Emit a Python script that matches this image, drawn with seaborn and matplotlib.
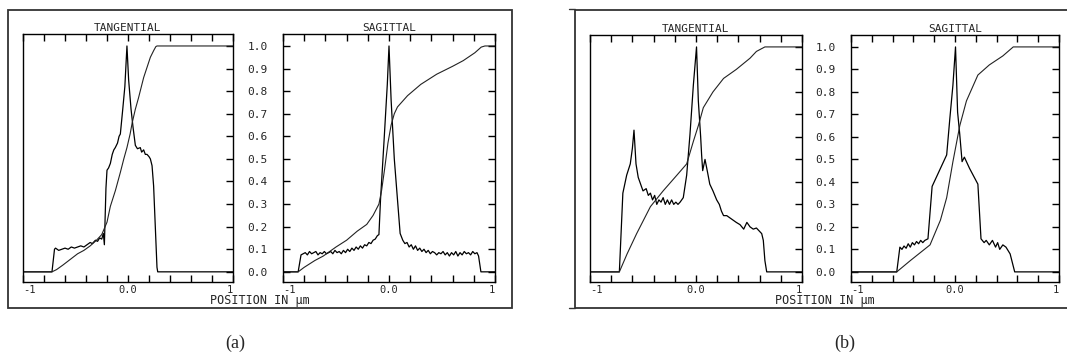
import matplotlib
matplotlib.use("Agg")
import matplotlib.pyplot as plt
import numpy as np
import seaborn as sns
from matplotlib.lines import Line2D
from matplotlib.patches import Rectangle

# line spread (jagged) and edge spread (cumulative) curves
a_tan_lsf_x = [-1.0, -0.724, -0.70, -0.69, -0.66, -0.63, -0.60, -0.57, -0.54, -0.51, -0.48, -0.45,
               -0.42, -0.39, -0.36, -0.34, -0.31, -0.29, -0.27, -0.25, -0.235, -0.225, -0.21,
               -0.20, -0.185, -0.168, -0.15, -0.135, -0.121, -0.10, -0.085, -0.073, -0.05,
               -0.03, -0.01, 0.006, 0.029, 0.048, 0.07, 0.09, 0.117, 0.13, 0.149, 0.165, 0.181,
               0.20, 0.213, 0.229, 0.244, 0.26, 0.276, 0.283, 1.0]
a_tan_lsf_y = [0.0, 0.0, 0.10, 0.105, 0.095, 0.10, 0.105, 0.10, 0.11, 0.105, 0.11, 0.115,
               0.11, 0.12, 0.13, 0.125, 0.14, 0.135, 0.15, 0.145, 0.17, 0.12, 0.37,
               0.45, 0.46, 0.48, 0.52, 0.54, 0.55, 0.57, 0.60, 0.61, 0.72,
               0.82, 1.0, 0.85, 0.72, 0.64, 0.56, 0.545, 0.55, 0.53, 0.54, 0.52, 0.52,
               0.51, 0.50, 0.47, 0.38, 0.20, 0.02, 0.0, 0.0]
a_tan_esf_x = [-1.0, -0.724, -0.68, -0.62, -0.55, -0.48, -0.42, -0.36, -0.30, -0.25, -0.20,
               -0.168, -0.12, -0.073, -0.04, -0.01, 0.02, 0.04, 0.07, 0.10, 0.149, 0.213,
               0.245, 0.265, 0.276, 1.0]
a_tan_esf_y = [0.0, 0.0, 0.01, 0.03, 0.055, 0.08, 0.095, 0.115, 0.14, 0.165, 0.22,
               0.29, 0.36, 0.44, 0.50, 0.55, 0.61, 0.66, 0.72, 0.77, 0.86, 0.95,
               0.98, 0.997, 1.0, 1.0]

a_sag_lsf_x = [-1.0, -0.857, -0.83, -0.81, -0.79, -0.77, -0.75, -0.73, -0.71, -0.69, -0.67,
               -0.65, -0.63, -0.61, -0.59, -0.57, -0.55, -0.53, -0.51, -0.49, -0.47, -0.45,
               -0.43, -0.41, -0.39, -0.37, -0.35, -0.33, -0.31, -0.29, -0.27, -0.25, -0.23,
               -0.21, -0.19, -0.17, -0.15, -0.13, -0.11, -0.095, -0.08, -0.048, -0.016, 0.0,
               0.02, 0.05, 0.08, 0.105, 0.13, 0.15, 0.17, 0.19, 0.21, 0.23, 0.25, 0.27, 0.29,
               0.31, 0.33, 0.35, 0.37, 0.39, 0.41, 0.43, 0.45, 0.47, 0.49, 0.51, 0.53, 0.55,
               0.57, 0.59, 0.61, 0.63, 0.65, 0.67, 0.69, 0.71, 0.73, 0.75, 0.77, 0.79, 0.81,
               0.83, 0.845, 0.867, 1.0]
a_sag_lsf_y = [0.0, 0.0, 0.075, 0.08, 0.085, 0.075, 0.09, 0.08, 0.085, 0.09, 0.075,
               0.085, 0.08, 0.09, 0.08, 0.085, 0.09, 0.08, 0.095, 0.085, 0.09, 0.08,
               0.095, 0.085, 0.10, 0.09, 0.105, 0.095, 0.11, 0.10, 0.115, 0.105, 0.12,
               0.115, 0.13, 0.125, 0.14, 0.145, 0.16, 0.165, 0.32, 0.57, 0.83, 1.0,
               0.76, 0.50, 0.32, 0.17, 0.14, 0.125, 0.13, 0.11, 0.12, 0.10, 0.115, 0.095, 0.105,
               0.09, 0.10, 0.085, 0.095, 0.08, 0.09, 0.085, 0.075, 0.085, 0.08, 0.09, 0.075, 0.085,
               0.07, 0.085, 0.075, 0.09, 0.07, 0.085, 0.075, 0.09, 0.08, 0.085, 0.075, 0.09, 0.08,
               0.085, 0.07, 0.0, 0.0]
a_sag_esf_x = [-1.0, -0.857, -0.80, -0.70, -0.62, -0.50, -0.40, -0.30, -0.21, -0.15, -0.095,
               -0.07, -0.04, -0.01, 0.02, 0.05, 0.08, 0.175, 0.30, 0.45, 0.60, 0.70, 0.81,
               0.87, 0.905, 1.0]
a_sag_esf_y = [0.0, 0.0, 0.02, 0.05, 0.07, 0.11, 0.14, 0.18, 0.21, 0.25, 0.30,
               0.36, 0.46, 0.57, 0.65, 0.70, 0.73, 0.78, 0.83, 0.875, 0.91, 0.935, 0.97,
               0.995, 1.0, 1.0]

b_tan_lsf_x = [-1.0, -0.723, -0.69, -0.654, -0.62, -0.60, -0.585, -0.566, -0.545, -0.50,
               -0.47, -0.45, -0.43, -0.41, -0.39, -0.37, -0.35, -0.33, -0.31, -0.29, -0.27,
               -0.25, -0.23, -0.21, -0.19, -0.17, -0.15, -0.12, -0.088, -0.057, -0.025, 0.005,
               0.022, 0.044, 0.053, 0.063, 0.085, 0.11, 0.13, 0.16, 0.195, 0.22, 0.24, 0.26,
               0.29, 0.32, 0.35, 0.38, 0.415, 0.45, 0.48, 0.51, 0.54, 0.57, 0.60, 0.62, 0.635,
               0.65, 0.667, 1.0]
b_tan_lsf_y = [0.0, 0.0, 0.35, 0.43, 0.48, 0.55, 0.63, 0.48, 0.42, 0.36,
               0.37, 0.34, 0.35, 0.32, 0.34, 0.30, 0.32, 0.31, 0.33, 0.30, 0.32,
               0.30, 0.32, 0.30, 0.31, 0.30, 0.31, 0.33, 0.43, 0.61, 0.83, 1.0,
               0.76, 0.60, 0.52, 0.45, 0.50, 0.44, 0.39, 0.36, 0.32, 0.30, 0.27, 0.25,
               0.25, 0.24, 0.23, 0.22, 0.21, 0.19, 0.22, 0.20, 0.19, 0.195, 0.18, 0.17, 0.14,
               0.05, 0.0, 0.0]
b_tan_esf_x = [-1.0, -0.723, -0.65, -0.56, -0.43, -0.31, -0.18, -0.088, -0.025, 0.022,
               0.069, 0.16, 0.26, 0.38, 0.51, 0.57, 0.65, 1.0]
b_tan_esf_y = [0.0, 0.0, 0.08, 0.17, 0.29, 0.36, 0.43, 0.48, 0.58, 0.65,
               0.73, 0.80, 0.86, 0.90, 0.95, 0.98, 1.0, 1.0]

b_sag_lsf_x = [-1.0, -0.56, -0.53, -0.51, -0.49, -0.47, -0.45, -0.43, -0.41, -0.39, -0.37,
               -0.35, -0.33, -0.31, -0.29, -0.26, -0.22, -0.18, -0.12, -0.08, -0.05, -0.02,
               0.005, 0.025, 0.046, 0.068, 0.09, 0.14, 0.22, 0.25, 0.28, 0.30, 0.33, 0.36,
               0.39, 0.41, 0.43, 0.46, 0.49, 0.53, 0.574, 1.0]
b_sag_lsf_y = [0.0, 0.0, 0.11, 0.10, 0.115, 0.105, 0.125, 0.11, 0.13, 0.12, 0.135,
               0.125, 0.14, 0.13, 0.14, 0.147, 0.38, 0.42, 0.48, 0.52, 0.68, 0.83,
               1.0, 0.71, 0.61, 0.49, 0.51, 0.46, 0.39, 0.147, 0.13, 0.14, 0.12, 0.14,
               0.11, 0.13, 0.10, 0.12, 0.11, 0.08, 0.0, 0.0]
b_sag_esf_x = [-1.0, -0.56, -0.43, -0.24, -0.14, -0.08, -0.02, 0.046, 0.11, 0.22, 0.33,
               0.46, 0.56, 1.0]
b_sag_esf_y = [0.0, 0.0, 0.05, 0.12, 0.23, 0.33, 0.49, 0.65, 0.76, 0.875, 0.92,
               0.96, 1.0, 1.0]

y_ticks = [0.0, 0.1, 0.2, 0.3, 0.4, 0.5, 0.6, 0.7, 0.8, 0.9, 1.0]
x_ticks = [-1.0, -0.8, -0.6, -0.4, -0.2, 0.0, 0.2, 0.4, 0.6, 0.8, 1.0]
x_labels = ["-1", "", "", "", "", "0.0", "", "", "", "", "1"]

sns.set_style("white")
plt.rcParams["font.family"] = ["DejaVu Sans Mono", "DejaVu Sans"]

W, H = 1067, 356
fig = plt.figure(figsize=(W / 100, H / 100), dpi=100)
MONO = ["DejaVu Sans Mono", "DejaVu Sans"]


def px_axes(x0, y0, x1, y1):
    return fig.add_axes([x0 / W, 1 - y1 / H, (x1 - x0) / W, (y1 - y0) / H])


def draw(ax, title, lsf_x, lsf_y, esf_x, esf_y, sagittal):
    sns.lineplot(x=lsf_x, y=lsf_y, ax=ax, color="black", lw=0.9,
                 estimator=None, sort=False)
    sns.lineplot(x=esf_x, y=esf_y, ax=ax, color="#222222", lw=0.8,
                 estimator=None, sort=False)
    ax.set_xlim(-1, 1)
    ax.set_ylim(-0.045, 1.053)
    ax.set_xticks(x_ticks)
    ax.set_xticklabels(x_labels, fontsize=7.5, family=MONO)
    tl = ax.get_xticklabels()
    tl[0].set_ha("left")
    tl[-1].set_ha("right")
    ax.set_yticks(y_ticks)
    ax.tick_params(axis="x", direction="in", length=5, width=1, top=True,
                   bottom=True, pad=2.5, color="black")
    if sagittal:
        ax.set_yticklabels(["%.1f" % v for v in y_ticks], fontsize=8, family=MONO)
        ax.tick_params(axis="y", direction="in", length=5, width=1, left=True,
                       right=True, pad=11, color="black")
    else:
        ax.tick_params(axis="y", direction="in", length=5, width=1, left=False,
                       right=True, labelleft=False, color="black")
    for s in ax.spines.values():
        s.set_color("black")
        s.set_linewidth(1.0)
    ax.set_xlabel("")
    ax.set_ylabel("")
    ax.set_title(title, fontsize=8, family=MONO, pad=2)


panels = [
    ((23, 34, 233, 282), (283, 34, 495, 282), a_tan_lsf_x, a_tan_lsf_y, a_tan_esf_x, a_tan_esf_y,
     a_sag_lsf_x, a_sag_lsf_y, a_sag_esf_x, a_sag_esf_y),
    ((590, 35, 802, 282), (851, 35, 1059, 282), b_tan_lsf_x, b_tan_lsf_y, b_tan_esf_x, b_tan_esf_y,
     b_sag_lsf_x, b_sag_lsf_y, b_sag_esf_x, b_sag_esf_y),
]
for box_t, box_s, tlx, tly, tex, tey, slx, sly, sex, sey in panels:
    draw(px_axes(*box_t), "TANGENTIAL", tlx, tly, tex, tey, False)
    draw(px_axes(*box_s), "SAGITTAL", slx, sly, sex, sey, True)

# outer frames
frame_kw = dict(fill=False, edgecolor="#333333", lw=1.3, transform=None)
for x0, y0, x1, y1 in [(7.5, 10, 512, 308), (575, 9.5, 1075, 308)]:
    fig.patches.append(Rectangle((x0, H - y1), x1 - x0, y1 - y0, **frame_kw))
for yy in (9, 308):
    fig.lines.append(Line2D([569, 575], [H - yy, H - yy], color="#333333", lw=1.0,
                            transform=None))

fig.text(260 / W, 1 - 300.5 / H, "POSITION IN \u03bcm", ha="center", va="center",
         fontsize=8.5, family=MONO)
fig.text(825 / W, 1 - 300.5 / H, "POSITION IN \u03bcm", ha="center", va="center",
         fontsize=8.5, family=MONO)
fig.text(235 / W, 1 - 343 / H, "(a)", ha="center", va="center", fontsize=13,
         family="Liberation Serif")
fig.text(845 / W, 1 - 343 / H, "(b)", ha="center", va="center", fontsize=13,
         family="Liberation Serif")

fig.savefig("out.png", dpi=100)
